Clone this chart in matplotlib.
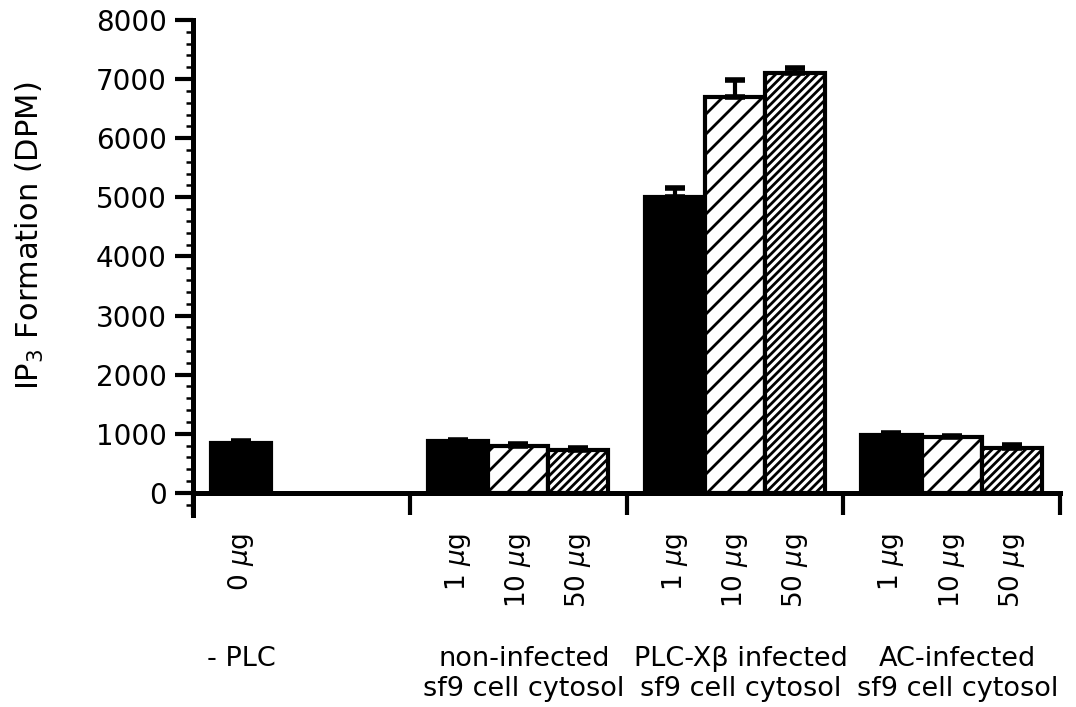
import matplotlib
matplotlib.use('Agg')
import matplotlib.pyplot as plt
import matplotlib.hatch as mhatch
import numpy as np
from matplotlib.ticker import MultipleLocator, FixedLocator
from matplotlib.transforms import blended_transform_factory

# ---- data ----
group_labels = ['- PLC',
                'non-infected\nsf9 cell cytosol',
                'PLC-X\u03b2 infected\nsf9 cell cytosol',
                'AC-infected\nsf9 cell cytosol']
dose_labels = [['0'], ['1', '10', '50'], ['1', '10', '50'], ['1', '10', '50']]
values = [[840], [880, 790, 730], [5000, 6700, 7100], [980, 950, 760]]
errors = [[35], [20, 40, 35], [150, 290, 80], [35, 15, 50]]
y_ticks = [0, 1000, 2000, 3000, 4000, 5000, 6000, 7000, 8000]


# hatch spacing closer to the original print (sparse / dense diagonal lines)
class _NEHatch(mhatch.NorthEastHatch):
    def __init__(self, hatch, density):
        n = hatch.count('/')
        self.num_lines = {0: 0, 1: 10, 2: 24}.get(n, int(n * density))
        self.num_vertices = (self.num_lines + 1) * 2 if self.num_lines else 0


mhatch._hatch_types = [_NEHatch if t is mhatch.NorthEastHatch else t
                       for t in mhatch._hatch_types]

plt.rcParams['font.family'] = ['DejaVu Sans']
plt.rcParams['hatch.linewidth'] = 2.0

fig = plt.figure(figsize=(10.76, 7.07), dpi=100)
ax = fig.add_axes([193/1076, (707-515)/707, (1060-193)/1076, (515-20)/707])

group_w = 3.6
pad = 0.3
fills = ['black', 'white', 'white']
hatches = [None, '/', '//']

centers = []
tick_texts = []
for g, (vals, errs, doses) in enumerate(zip(values, errors, dose_labels)):
    for s, (v, e, d) in enumerate(zip(vals, errs, doses)):
        x = g * group_w + pad + 0.5 + s
        ax.bar(x, v, width=1.0, color=fills[s], edgecolor='black',
               linewidth=3, hatch=hatches[s], zorder=2)
        ax.errorbar(x, v, yerr=[[0], [e]], fmt='none', ecolor='black',
                    elinewidth=3, capsize=7, capthick=4, zorder=3)
        centers.append(x)
        tick_texts.append(d + r' $\mu$g')

ax.set_xlim(0, group_w * 4)

for sp in ['top', 'right']:
    ax.spines[sp].set_visible(False)
ax.spines['left'].set_linewidth(3.6)
ax.spines['bottom'].set_linewidth(3.6)
ax.spines['bottom'].set_position(('data', 0))
ax.spines['bottom'].set_zorder(4)

ax.set_yticks(y_ticks)
ax.yaxis.set_minor_locator(MultipleLocator(200))
ax.tick_params(axis='y', which='major', length=13, width=3, labelsize=20, pad=6)
ax.tick_params(axis='y', which='minor', length=5, width=1.8)
ax.set_ylim(-375, 8000)

ax.xaxis.set_major_locator(FixedLocator(centers))
ax.set_xticklabels(tick_texts, rotation=90, va='top', ha='center', fontsize=19)
ax.xaxis.set_minor_locator(FixedLocator([g * group_w for g in range(5)]))
ax.tick_params(axis='x', which='major', length=0, pad=29)
ax.tick_params(axis='x', which='minor', length=16, width=3)

ax.set_ylabel('IP$_3$ Formation (DPM)', fontsize=22)
ax.yaxis.set_label_coords(-0.17, 0.565)

trans = blended_transform_factory(ax.transData, fig.transFigure)
label_x = [pad + 0.5] + [g * group_w + group_w / 2 + 0.1 for g in range(1, 4)]
for lx, lab in zip(label_x, group_labels):
    ax.text(lx, (707 - 646) / 707, lab, transform=trans, ha='center', va='top',
            fontsize=19.5, linespacing=1.2)

fig.savefig('out.png', dpi=100)
